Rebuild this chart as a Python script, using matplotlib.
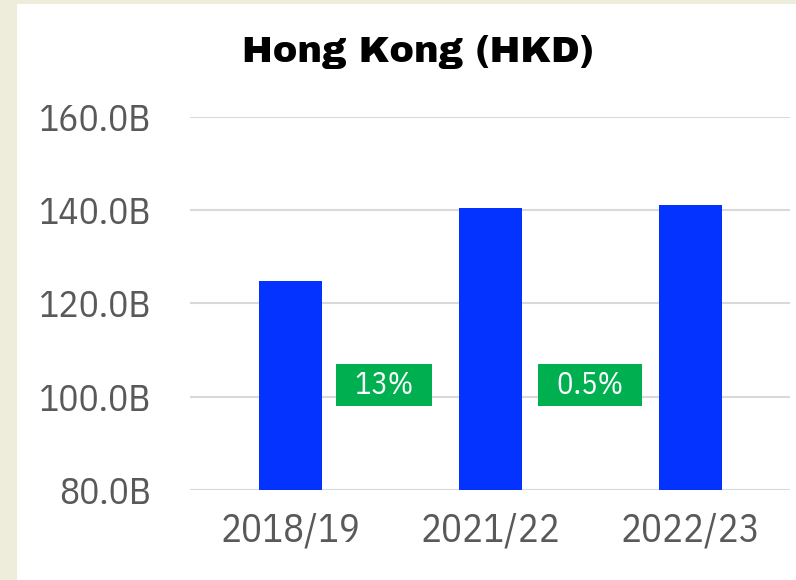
import matplotlib
matplotlib.use('Agg')
import matplotlib.pyplot as plt
from matplotlib.patches import Rectangle

years = ['2018/19', '2021/22', '2022/23']
values = [124.8, 140.5, 141.1]
changes = ['13%', '0.5%']
yticks = [80, 100, 120, 140, 160]

cond = ['IBM Plex Sans Condensed', 'Roboto Condensed', 'DejaVu Sans']

fig = plt.figure(figsize=(7.96, 5.80), dpi=100)
fig.patch.set_facecolor('#EEEDDC')
fig.patches.append(Rectangle((17 / 796, 0), 1, 1 - 4 / 580, transform=fig.transFigure,
                             facecolor='white', edgecolor='none', zorder=-5))

ax = fig.add_axes([190 / 796, 1 - 490 / 580, 600 / 796, 373 / 580])
ax.set_zorder(2)
ax.set_facecolor('none')
x = range(len(years))
ax.bar(x, values, width=0.315, color='#0433FF', zorder=3)

ax.set_xlim(-0.5, 2.5)
ax.set_ylim(80, 160)
ax.set_yticks(yticks)
ax.set_yticklabels([f'{v:.1f}B' for v in yticks], family=cond, weight='normal',
                   fontsize=27, color='#595959')
ax.set_xticks(list(x))
ax.set_xticklabels(years, family=cond, weight='normal', fontsize=28, color='#595959')
ax.tick_params(length=0)
ax.tick_params(axis='y', pad=28)
ax.tick_params(axis='x', pad=16)
for s in ax.spines.values():
    s.set_visible(False)
ax.yaxis.grid(True, color='#D9D9D9', linewidth=1.5, zorder=0)
ax.set_axisbelow(True)

# growth labels between bars
label_x = [0.47, 1.5]
for lx, txt in zip(label_x, changes):
    ax.text(lx, 102.6, '  ' + txt + '  ', ha='center', va='center', color='white',
            family=cond, weight='normal', fontsize=22, zorder=4,
            bbox=dict(boxstyle='square,pad=0.2', facecolor='#00B050', edgecolor='none'))

fig.text(418 / 796, 1 - 52 / 580, 'Hong Kong (HKD)', ha='center', va='center',
         fontsize=26.5, color='black', family=['Archivo Black', 'DejaVu Sans'], zorder=3)

fig.savefig('out.png', dpi=100, facecolor=fig.get_facecolor())
